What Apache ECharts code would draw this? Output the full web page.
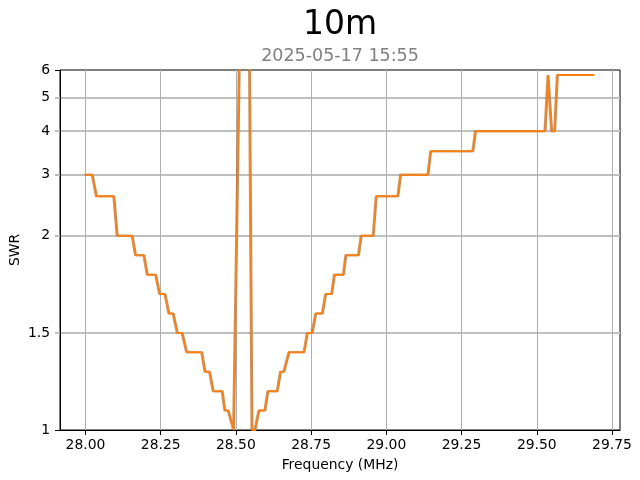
<!DOCTYPE html>
<html><head><meta charset="utf-8">
<script src="https://cdn.jsdelivr.net/npm/echarts@6/dist/echarts.min.js"></script>
<style>html,body{margin:0;padding:0;background:#fff}#c{width:640px;height:480px}</style>
</head><body><div id="c"></div>
<script>
const freqMHz = [28.000,28.024,28.038,28.096,28.107,28.157,28.168,28.196,28.207,28.235,28.248,28.266,28.279,28.293,28.307,28.323,28.338,28.388,28.399,28.414,28.426,28.456,28.465,28.476,28.494,28.522,28.543,28.555,28.565,28.578,28.598,28.608,28.639,28.650,28.661,28.678,28.728,28.739,28.755,28.767,28.789,28.800,28.820,28.829,28.859,28.867,28.909,28.918,28.958,28.968,29.040,29.049,29.140,29.149,29.289,29.298,29.529,29.539,29.551,29.561,29.570,29.692];
const swr = [3.0,3.0,2.6,2.6,2.0,2.0,1.9,1.9,1.8,1.8,1.7,1.7,1.6,1.6,1.5,1.5,1.4,1.4,1.3,1.3,1.2,1.2,1.1,1.1,1.0,20,20,1.0,1.0,1.1,1.1,1.2,1.2,1.3,1.3,1.4,1.4,1.5,1.5,1.6,1.6,1.7,1.7,1.8,1.8,1.9,1.9,2.0,2.0,2.6,2.6,3.0,3.0,3.5,3.5,4.0,4.0,5.8,4.0,4.0,5.8,5.8];
const xTicks = [28.00,28.25,28.50,28.75,29.00,29.25,29.50,29.75];
const yTickLabels = [1,1.5,2,3,4,5,6];
const yGridValues = [1.5,2,3,4,5];
const yEndTicks = [1,6];
const xMin = 27.9154, xMax = 29.7766;
const yMinSWR = 1, yMaxSWR = 6;

const K = 1.79;
function T(s){ return s <= 2 ? s - 1 : 1 + K*Math.log10(s/2); }
function labelFor(v){
  let best = yTickLabels[0], bd = Infinity;
  yTickLabels.forEach(s => { const d = Math.abs(T(s)-v); if (d < bd){ bd = d; best = s; } });
  return String(best);
}
const FONT = 'DejaVu Sans';
const chart = echarts.init(document.getElementById('c'), null, {renderer:'canvas'});
chart.setOption({
  animation: false,
  backgroundColor: '#fff',
  title: [
    {text:'10m', left:340, top:9, padding:0, textAlign:'center',
     textStyle:{fontFamily:FONT, fontSize:33, fontWeight:'normal', color:'#000'}},
    {text:'2025-05-17 15:55', left:340, top:47, padding:0, textAlign:'center',
     textStyle:{fontFamily:FONT, fontSize:17.5, fontWeight:'normal', color:'#808080'}}
  ],
  grid: {left:60, right:20, top:70, bottom:50, show:true, borderColor:'#000', borderWidth:1, backgroundColor:'transparent', containLabel:false, outerBoundsMode:'none'},
  xAxis: {
    type:'value', min:xMin, max:xMax,
    name:'Frequency (MHz)', nameLocation:'middle', nameGap:28, nameMoveOverlap:false,
    nameTextStyle:{fontFamily:FONT, fontSize:13.9, color:'#000'},
    axisLine:{show:true, onZero:false, lineStyle:{color:'#000', width:1}},
    axisTick:{show:true, customValues:xTicks, length:5, lineStyle:{color:'#000', width:1}},
    axisLabel:{customValues:xTicks, formatter:v=>v.toFixed(2), margin:8.5, fontFamily:FONT, fontSize:13.9, color:'#000'},
    splitLine:{show:true, lineStyle:{color:'#b0b0b0', width:1}}
  },
  yAxis: [
    {
      type:'value', min:T(yMinSWR), max:T(yMaxSWR), position:'left',
      name:'SWR', nameLocation:'middle', nameGap:38, nameMoveOverlap:false,
      nameTextStyle:{fontFamily:FONT, fontSize:13.9, color:'#000'},
      axisLine:{show:true, onZero:false, lineStyle:{color:'#000', width:1}},
      axisTick:{show:true, customValues:yEndTicks.map(T), length:5, lineStyle:{color:'#000', width:1}},
      axisLabel:{customValues:yTickLabels.map(T), formatter:labelFor, margin:10, fontFamily:FONT, fontSize:13.9, color:'#000'},
      splitLine:{show:false}
    },
    {
      type:'value', min:T(yMinSWR), max:T(yMaxSWR), position:'left',
      axisLine:{show:false},
      axisTick:{show:true, customValues:yGridValues.map(T), length:5, lineStyle:{color:'#bfbfbf', width:2}},
      axisLabel:{show:false, customValues:yGridValues.map(T)},
      splitLine:{show:true, lineStyle:{color:'#bfbfbf', width:2}}
    }
  ],
  series: [{
    type:'line', xAxisIndex:0, yAxisIndex:0, showSymbol:false, symbol:'none', clip:true,
    data: freqMHz.map((f,i)=>[f, T(swr[i])]),
    lineStyle:{color:'#ff7f0e', width:2, shadowColor:'rgba(120,120,120,0.7)', shadowOffsetX:-1, shadowOffsetY:0, shadowBlur:0},
    z:5
  }]
});
</script></body></html>
